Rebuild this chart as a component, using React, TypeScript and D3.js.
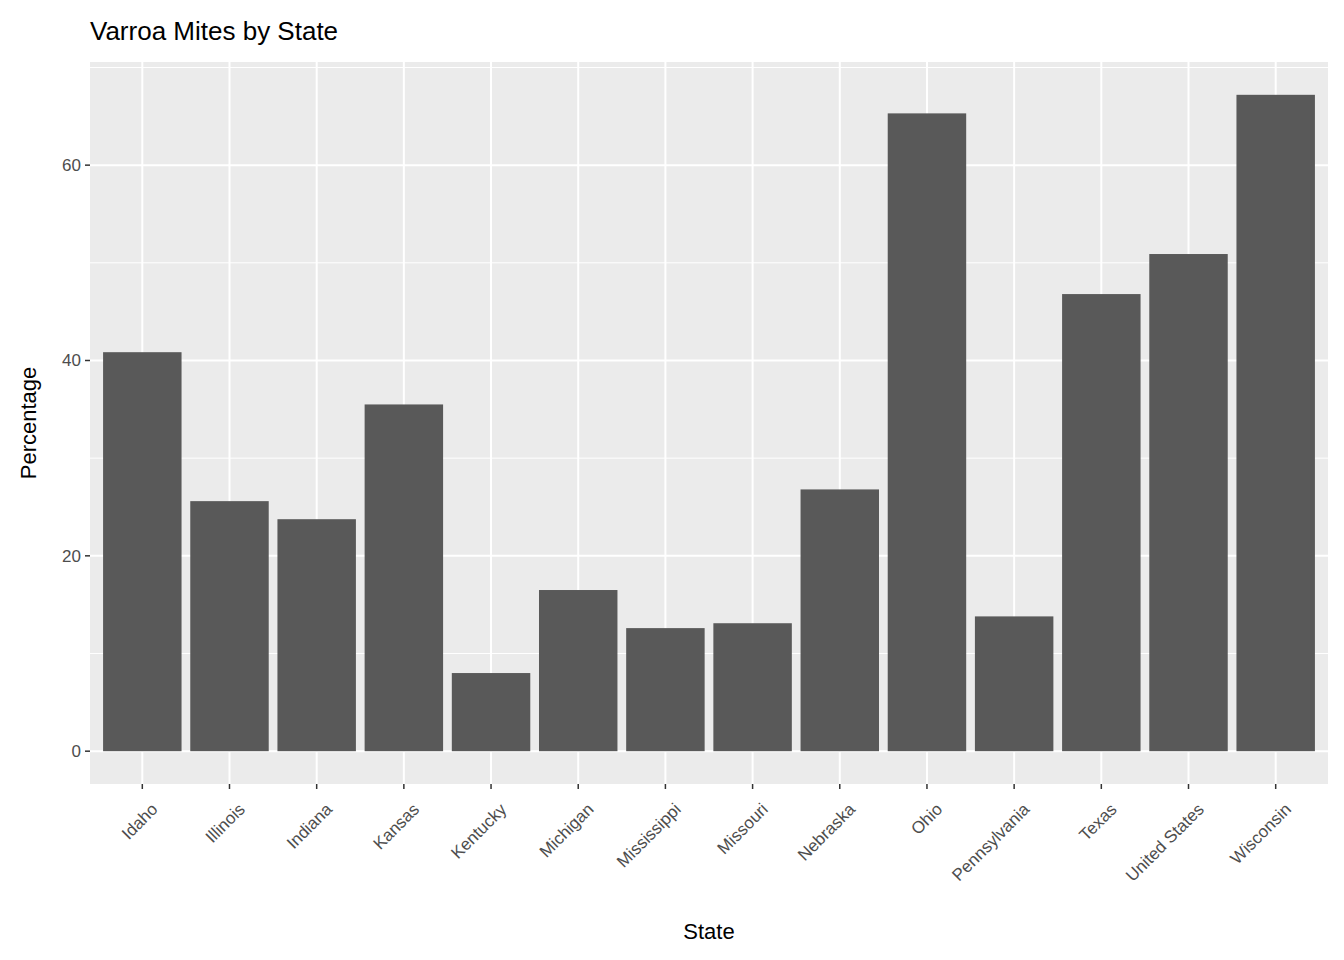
import * as d3 from "d3";

const states = ["Idaho", "Illinois", "Indiana", "Kansas", "Kentucky", "Michigan", "Mississippi", "Missouri", "Nebraska", "Ohio", "Pennsylvania", "Texas", "United States", "Wisconsin"];
const percentages = [40.85, 25.6, 23.75, 35.5, 8.0, 16.5, 12.6, 13.1, 26.8, 65.3, 13.8, 46.8, 50.9, 67.2];
const yTicks = [0, 20, 40, 60];
const yMinor = [10, 30, 50, 70];

const W = 1344, H = 960;
const left = 90, right = 1328, top = 62, bottom = 784;
const font = "Liberation Sans, Arial, sans-serif";

export default function App() {
  const x = d3.scaleLinear().domain([-0.6, states.length - 1 + 0.6]).range([left, right]);
  const maxV = d3.max(percentages)!;
  const y = d3.scaleLinear().domain([-maxV * 0.05, maxV * 1.05]).range([bottom, top]);
  const bw = (x(1) - x(0)) * 0.9;
  return (
    <svg width={W} height={H} style={{ position: "absolute", left: 0, top: 0, background: "#fff" }} fontFamily={font}>
      <rect x={left} y={top} width={right - left} height={bottom - top} fill="#EBEBEB" />
      {yMinor.filter(v => y(v) > top).map(v => (
        <line key={"m" + v} x1={left} x2={right} y1={y(v)} y2={y(v)} stroke="#fff" strokeWidth={1} />
      ))}
      {yTicks.map(v => (
        <line key={"g" + v} x1={left} x2={right} y1={y(v)} y2={y(v)} stroke="#fff" strokeWidth={2} />
      ))}
      {states.map((s, i) => (
        <line key={"v" + s} x1={x(i)} x2={x(i)} y1={top} y2={bottom} stroke="#fff" strokeWidth={2} />
      ))}
      {states.map((s, i) => (
        <rect key={"b" + s} x={x(i) - bw / 2} y={y(percentages[i])} width={bw} height={y(0) - y(percentages[i])} fill="#595959" />
      ))}
      {yTicks.map(v => (
        <g key={"t" + v}>
          <line x1={left - 5} x2={left} y1={y(v)} y2={y(v)} stroke="#333" strokeWidth={1.5} />
          <text x={left - 9} y={y(v)} dy="0.35em" textAnchor="end" fontSize={17} fill="#4D4D4D">{v}</text>
        </g>
      ))}
      {states.map((s, i) => (
        <g key={"x" + s}>
          <line x1={x(i)} x2={x(i)} y1={bottom} y2={bottom + 5} stroke="#333" strokeWidth={1.5} />
          <text transform={`translate(${x(i) + 8},${bottom + 18}) rotate(-45)`} textAnchor="end" dy="0.7em" fontSize={17} fill="#4D4D4D">{s}</text>
        </g>
      ))}
      <text x={(left + right) / 2} y={939} textAnchor="middle" fontSize={22} fill="#000">State</text>
      <text transform={`translate(36,${(top + bottom) / 2}) rotate(-90)`} textAnchor="middle" fontSize={22} fill="#000">Percentage</text>
      <text x={left} y={40} fontSize={26} fill="#000">Varroa Mites by State</text>
    </svg>
  );
}
